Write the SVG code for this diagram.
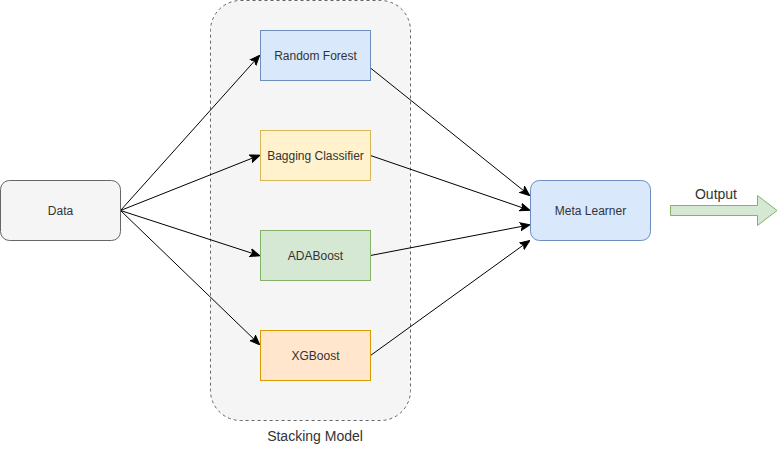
<svg xmlns="http://www.w3.org/2000/svg" width="778" height="451" viewBox="0 0 778 451">
  <style>
    text { font-family: "Liberation Sans", Arial, sans-serif; font-size: 12px; fill: #333333; text-anchor: middle; }
    .label { font-size: 14px; }
    .edge { fill: none; stroke: #000000; stroke-width: 1; }
    .blue { fill: #dae8fc; stroke: #6c8ebf; }
    .yellow { fill: #fff2cc; stroke: #d6b656; }
    .green { fill: #d5e8d4; stroke: #82b366; }
    .orange { fill: #ffe6cc; stroke: #d79b00; }
    .grey { fill: #f5f5f5; stroke: #666666; }
  </style>
  <defs>
    <marker id="arrow" viewBox="0 0 10 10" refX="9" refY="5" markerWidth="10" markerHeight="10" markerUnits="userSpaceOnUse" orient="auto">
      <path d="M0,1 L10,5 L0,9 L2.5,5 Z" fill="#000000" stroke="#000000" stroke-width="1"/>
    </marker>
  </defs>

  <!-- stacking container -->
  <g id="stacking-model">
    <rect x="210.5" y="0.5" width="200" height="420" rx="30" ry="30" fill="#f5f5f5" stroke="#666666" stroke-dasharray="3 3"/>
    <text class="label" x="315" y="441">Stacking Model</text>
  </g>

  <!-- connectors -->
  <g id="connectors">
    <path class="edge" d="M120.5,210.5 L259,56" marker-end="url(#arrow)"/>
    <path class="edge" d="M120.5,210.5 L259,155.5" marker-end="url(#arrow)"/>
    <path class="edge" d="M120.5,210.5 L259,255.5" marker-end="url(#arrow)"/>
    <path class="edge" d="M120.5,210.5 L259,344" marker-end="url(#arrow)"/>
    <path class="edge" d="M370.5,68 L529,195" marker-end="url(#arrow)"/>
    <path class="edge" d="M370.5,155.5 L529,210" marker-end="url(#arrow)"/>
    <path class="edge" d="M370.5,255.5 L529,225" marker-end="url(#arrow)"/>
    <path class="edge" d="M370.5,355.5 L529,241" marker-end="url(#arrow)"/>
  </g>

  <g id="data">
    <rect class="grey" x="0.5" y="180.5" width="120" height="60" rx="9" ry="9"/>
    <text x="60.5" y="214.5">Data</text>
  </g>

  <g id="random-forest">
    <rect class="blue" x="260.5" y="30.5" width="110" height="50"/>
    <text x="315.5" y="59.5">Random Forest</text>
  </g>

  <g id="bagging-classifier">
    <rect class="yellow" x="260.5" y="130.5" width="110" height="50"/>
    <text x="315.5" y="159.5">Bagging Classifier</text>
  </g>

  <g id="adaboost">
    <rect class="green" x="260.5" y="230.5" width="110" height="50"/>
    <text x="315.5" y="259.5">ADABoost</text>
  </g>

  <g id="xgboost">
    <rect class="orange" x="260.5" y="330.5" width="110" height="50"/>
    <text x="315.5" y="359.5">XGBoost</text>
  </g>

  <g id="meta-learner">
    <rect class="blue" x="530.5" y="180.5" width="120" height="60" rx="9" ry="9"/>
    <text x="590.5" y="214.5">Meta Learner</text>
  </g>

  <g id="output">
    <path class="green" d="M670.5,205.5 L757.5,205.5 L757.5,195.5 L777,210.5 L757.5,225.5 L757.5,215.5 L670.5,215.5 Z"/>
    <text class="label" x="716" y="199">Output</text>
  </g>
</svg>
